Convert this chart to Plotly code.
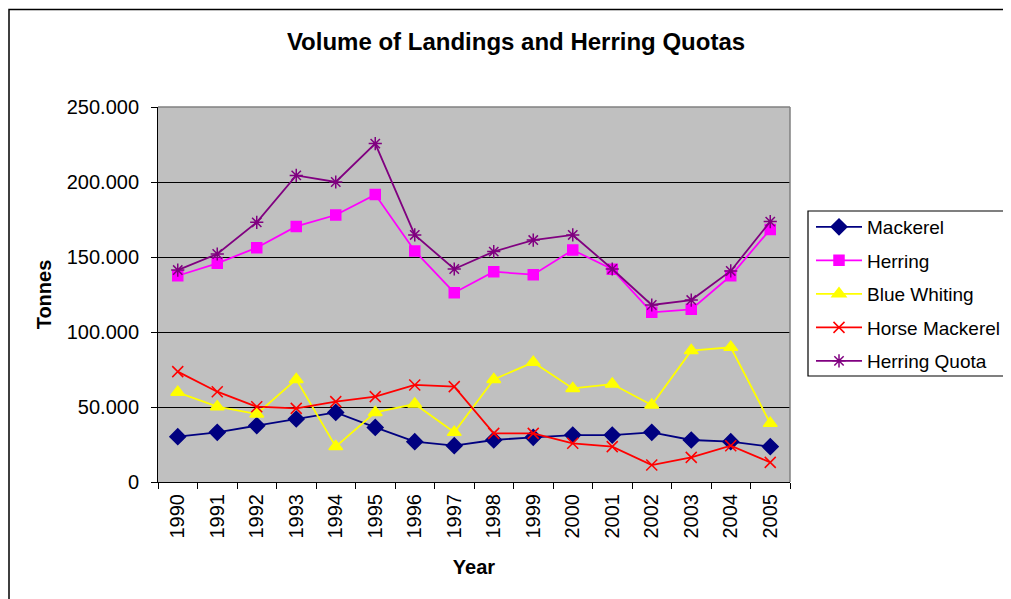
import plotly.graph_objects as go

years = [str(y) for y in range(1990, 2006)]

mackerel = [30200, 33100, 37600, 42000, 46400, 36400, 26900, 24200,
            28000, 29800, 31300, 31300, 33100, 28000, 26900, 23600]
herring = [137500, 145800, 156200, 170400, 178000, 191600, 154000, 126200,
           140200, 138200, 154700, 141800, 113100, 115100, 137500, 168400]
blue_whiting = [59800, 50200, 45300, 68400, 23600, 46400, 52000, 33100,
                68400, 79800, 62400, 65300, 51300, 87600, 89800, 39100]
horse_mackerel = [73600, 60200, 50200, 49100, 53600, 56900, 64700, 63600,
                  32400, 32400, 25800, 23600, 11300, 16400, 24200, 13100]
herring_quota = [141300, 152000, 173100, 204400, 200000, 225600, 164700, 142000,
                 153600, 161300, 164700, 142000, 118000, 121300, 140700, 173600]

font_family = "Arial, Liberation Sans, sans-serif"

series = [
    ("Mackerel", mackerel, "#000080", "diamond", 12),
    ("Herring", herring, "#FF00FF", "square", 10),
    ("Blue Whiting", blue_whiting, "#FFFF00", "triangle-up", 12),
    ("Horse Mackerel", horse_mackerel, "#FF0000", "x-thin-open", 11),
    ("Herring Quota", herring_quota, "#800080", "asterisk-open", 11),
]

fig = go.Figure()
for name, values, color, symbol, size in series:
    fig.add_trace(go.Scatter(
        x=years, y=values, name=name, mode="lines+markers",
        legendgroup=name,
        line=dict(color=color, width=1.8),
        marker=dict(symbol=symbol, size=size, color=color,
                    line=dict(color=color, width=1.5)),
    ))

# the page has an 8px body margin, so page pixel = paper pixel + 8
OFF = 8
# figure is a bit wider than the window so the legend never pushes the margin
W, H = 1040, 591
# plot area on the page: 158..790 x, 107..482 y
L, R, T, B = 158 - OFF, 790 - OFF, 107 - OFF, 482 - OFF
pw, ph = R - L, B - T


def fx(x_page):
    return (x_page - OFF - L) / pw


def fy(y_page):
    return (B - (y_page - OFF)) / ph


fig.update_layout(
    width=W, height=H,
    margin=dict(l=L, r=W - R, t=T, b=H - B, pad=0),
    paper_bgcolor="white",
    plot_bgcolor="#C0C0C0",
    separators=",.",
    font=dict(family=font_family, size=20, color="black"),
    title=dict(text="<b>Volume of Landings and Herring Quotas</b>",
               x=fx(516), xref="paper", xanchor="center",
               y=1 - (42 - OFF) / H, yanchor="middle",
               font=dict(size=24, color="black")),
    legend=dict(x=fx(811), y=fy(208), xanchor="left", yanchor="top",
                borderwidth=0, bgcolor="rgba(0,0,0,0)",
                font=dict(size=19), traceorder="grouped", tracegroupgap=5.8,
                itemwidth=46),
    showlegend=True,
)

fig.update_xaxes(
    type="category", range=[-0.5, len(years) - 0.5],
    showgrid=False, showline=True, linecolor="black", linewidth=1,
    ticks="outside", ticklen=6, tickcolor="black", tickson="boundaries",
    tickangle=-90, tickfont=dict(size=20), ticklabelstandoff=3,
    title=dict(text="<b>Year</b>", font=dict(size=20), standoff=22),
)
fig.update_yaxes(
    range=[0, 250000], tickvals=[0, 50000, 100000, 150000, 200000, 250000],
    tickformat=",d", showgrid=True, gridcolor="black", gridwidth=1,
    showline=True, linecolor="black", linewidth=1,
    ticks="outside", ticklen=6, tickcolor="black", tickfont=dict(size=20),
    ticklabelstandoff=8, zeroline=False,
    title=dict(text="<b>Tonnes</b>", font=dict(size=20), standoff=9),
)

# grey border on top and right of plot area
fig.add_shape(type="line", xref="paper", yref="paper", x0=0, x1=1, y0=1, y1=1,
              line=dict(color="#808080", width=1.5))
fig.add_shape(type="line", xref="paper", yref="paper", x0=1, x1=1, y0=0, y1=1,
              line=dict(color="#808080", width=1.5))
# legend box
fig.add_shape(type="rect", xref="paper", yref="paper",
              x0=fx(808), x1=fx(1016), y0=fy(376), y1=fy(211),
              line=dict(color="black", width=1.2), fillcolor="white", layer="below")
# outer chart border
fig.add_shape(type="rect", xref="paper", yref="paper",
              x0=fx(9), x1=fx(1020), y0=fy(620), y1=fy(9.5),
              line=dict(color="black", width=1.5), layer="below")

fig.write_html("out.html")
